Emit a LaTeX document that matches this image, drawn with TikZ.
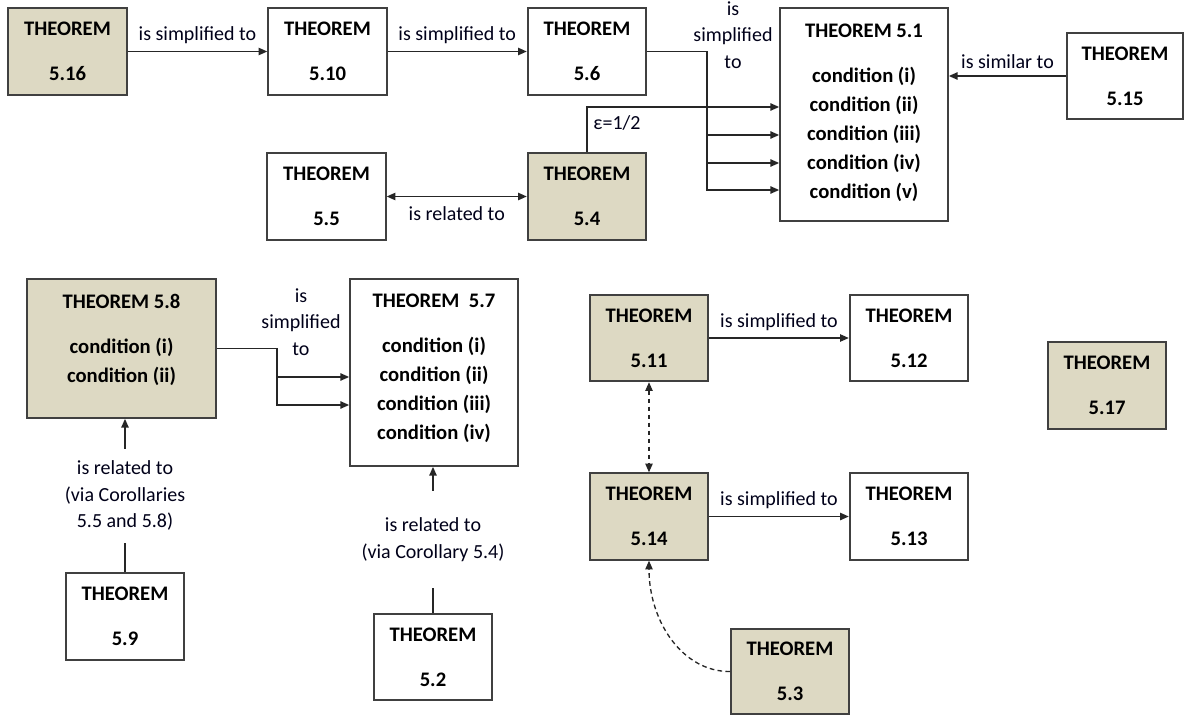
\documentclass[tikz,border=0pt]{standalone}
\usepackage{fontspec}
\setmainfont{Carlito}
\usetikzlibrary{arrows.meta}
\definecolor{thmtan}{RGB}{221,217,195}
\definecolor{boxline}{RGB}{64,64,64}
\newcommand{\thmtxt}[1]{THEOREM\\[12pt]#1}
\tikzset{
  thm/.style={draw=boxline, line width=1.3pt, fill=white, inner sep=0pt, align=center,
    minimum width=89pt, minimum height=65pt, font=\bfseries\fontsize{15.5}{21.75}\selectfont},
  thmgrey/.style={thm, fill=thmtan},
  thmbody/.style={anchor=north, inner sep=0pt, align=center, font=\bfseries\fontsize{15.5}{21.75}\selectfont},
  lbl/.style={align=center, inner sep=1pt, text=black!90!blue, font=\fontsize{15}{20}\selectfont},
  conn/.style={draw=black!85, line width=1pt, -{Triangle[length=6.5pt,width=5.5pt]}},
  connboth/.style={draw=black!85, line width=1pt, {Triangle[length=6.5pt,width=5.5pt]}-{Triangle[length=6.5pt,width=5.5pt]}},
  dashline/.style={dash pattern=on 3.5pt off 2.5pt}
}
\begin{document}
\begin{tikzpicture}[x=0.75pt,y=-0.75pt]
\useasboundingbox (0,0) rectangle (1186,717);
\node[thmgrey] (t516) at (67.5,51.5) {\thmtxt{5.16}};
\node[thm] (t510) at (327.5,51.5) {\thmtxt{5.10}};
\node[thm] (t56) at (587,51.5) {\thmtxt{5.6}};
\node[thm, minimum width=126pt, minimum height=159.75pt] (t51) at (864,114.5) {};
\node[thmbody] (t51txt) at ([yshift=-12.3pt]t51.north) {THEOREM 5.1\\[12pt]condition (i)\\condition (ii)\\condition (iii)\\condition (iv)\\condition (v)};
\node[thm, minimum width=87pt, minimum height=64.5pt] (t515) at (1125,76) {\thmtxt{5.15}};
\node[thm] (t55) at (326.5,196.5) {\thmtxt{5.5}};
\node[thmgrey] (t54) at (587,196.5) {\thmtxt{5.4}};
\node[thmgrey, minimum width=141.75pt, minimum height=104.25pt] (t58) at (121.5,348.5) {};
\node[thmbody] (t58txt) at ([yshift=-11.8pt]t58.north) {THEOREM 5.8\\[12pt]condition (i)\\condition (ii)};
\node[thm, minimum width=126pt, minimum height=140.25pt] (t57) at (434,372.5) {};
\node[thmbody] (t57txt) at ([yshift=-11.8pt]t57.north) {THEOREM~~5.7\\[12pt]condition (i)\\condition (ii)\\condition (iii)\\condition (iv)};
\node[thmgrey] (t511) at (649,338) {\thmtxt{5.11}};
\node[thm] (t512) at (909,338) {\thmtxt{5.12}};
\node[thmgrey] (t517) at (1107,385.5) {\thmtxt{5.17}};
\node[thmgrey] (t514) at (649,516.5) {\thmtxt{5.14}};
\node[thm] (t513) at (909,516.5) {\thmtxt{5.13}};
\node[thmgrey, minimum width=88.5pt, minimum height=64pt] (t53) at (790,671.5) {\thmtxt{5.3}};
\node[thm] (t59) at (125,616.5) {\thmtxt{5.9}};
\node[thm] (t52) at (433,657) {\thmtxt{5.2}};

\draw[conn] (t516) -- (t510) node[lbl, midway, above=4pt] (l1) {is simplified to};
\draw[conn] (t510) -- (t56) node[lbl, midway, above=4pt] (l2) {is simplified to};
\coordinate (s56) at (707,190);
\coordinate (s56b) at (707,135);
\coordinate (s56c) at (707,163);
\draw[conn] (t56.east) -| (s56) -- (s56 -| t51.west);
\draw[conn] (s56b) -- (s56b -| t51.west);
\draw[conn] (s56c) -- (s56c -| t51.west);
\node[lbl] (l3) at (733,35) {is\\simplified\\to};
\coordinate (e54) at (0,107);
\draw[conn] (t54.north) |- (t51.west |- e54);
\node[lbl] (eps) at (617,123) {ε=1/2};
\draw[conn] (t515.west) -- (t515.west -| t51.east) node[lbl, midway, above=4pt] (l4) {is similar to};
\draw[connboth] (t55) -- (t54) node[lbl, midway, below=6pt] (l5) {is related to};

\coordinate (s58) at (277,405);
\coordinate (s58b) at (277,377);
\draw[conn] (t58.east) -| (s58) -- (s58 -| t57.west);
\draw[conn] (s58b) -- (s58b -| t57.west);
\node[lbl] (l8) at (301,322) {is\\simplified\\to};
\draw[conn] (t59.north) -- (t59.north |- t58.south) node[lbl, midway, fill=white, inner ysep=9pt] (l6) {is related to\\(via Corollaries\\5.5 and 5.8)};
\draw[conn] (t52.north) -- (t52.north |- t57.south) node[lbl, midway, fill=white, inner ysep=20pt] (l7) {is related to\\(via Corollary 5.4)};

\draw[conn] (t511) -- (t512) node[lbl, midway, above=4pt] (l9) {is simplified to};
\draw[conn] (t514) -- (t513) node[lbl, midway, above=4pt] (l10) {is simplified to};
\draw[connboth, dashline] (t511.south) -- (t514.north);
\draw[conn, dashline] (t53.west) .. controls (683,672) and (649,622) .. (t514.south);
\end{tikzpicture}
\end{document}
